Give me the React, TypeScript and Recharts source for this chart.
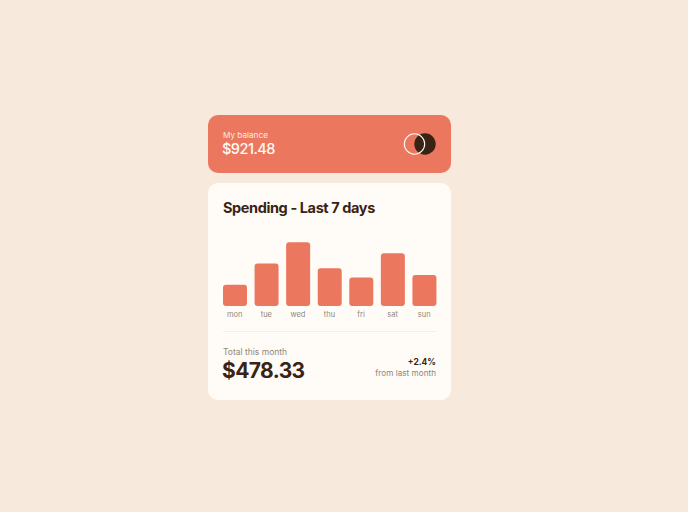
import React from 'react';
import { BarChart, Bar, XAxis, YAxis, Cell } from 'recharts';

const days = ['mon', 'tue', 'wed', 'thu', 'fri', 'sat', 'sun'];
const amounts = [17.45, 34.91, 52.36, 31.07, 23.39, 43.28, 25.48];
const balance = '$921.48';
const total = '$478.33';
const change = '+2.4%';

const data = days.map((day, i) => ({ day, amount: amounts[i] }));

const FONT = '"Inter", "DejaVu Sans", sans-serif';
const DARK = '#382314';
const MUTED = '#92857A';
const RED = '#EC775F';

export default function App() {
  return (
    <div style={{ position: 'fixed', left: 0, top: 0, width: 688, height: 512, background: '#F8E9DD', fontFamily: FONT }}>
      <div style={{ position: 'absolute', left: 208, top: 115, width: 243, height: 58, background: RED, borderRadius: 10 }}>
        <div style={{ position: 'absolute', left: 15, top: 15, fontSize: 8.2, color: '#FDE9E2' }}>My balance</div>
        <div style={{ position: 'absolute', left: 14, top: 25, fontSize: 14.5, fontWeight: 500, color: '#FFFBF6', letterSpacing: -0.5 }}>{balance}</div>
        <svg style={{ position: 'absolute', left: 194, top: 16 }} width={40} height={26}>
          <circle cx={23} cy={13} r={10.7} fill={DARK} />
          <circle cx={12.5} cy={13} r={10.2} fill="none" stroke="#FFFBF6" strokeWidth={1.1} />
        </svg>
      </div>
      <div style={{ position: 'absolute', left: 208, top: 183, width: 243, height: 217, background: '#FFFCF7', borderRadius: 10 }}>
        <div style={{ position: 'absolute', left: 15, top: 16, fontSize: 14.5, fontWeight: 700, color: DARK, letterSpacing: -0.4 }}>Spending - Last 7 days</div>
        <div style={{ position: 'absolute', left: 15, top: 148, width: 213, height: 1, background: '#F5EEE6' }} />
        <div style={{ position: 'absolute', left: 15, top: 164, fontSize: 8.5, color: MUTED }}>Total this month</div>
        <div style={{ position: 'absolute', left: 14, top: 175, fontSize: 21, fontWeight: 700, color: DARK, letterSpacing: -0.6 }}>{total}</div>
        <div style={{ position: 'absolute', right: 15, top: 174, fontSize: 8.5, fontWeight: 700, color: DARK }}>{change}</div>
        <div style={{ position: 'absolute', right: 15, top: 185, fontSize: 8.2, color: MUTED }}>from last month</div>
      </div>
      <div style={{ position: 'absolute', left: 219, top: 233 }}>
        <BarChart width={221} height={93} data={data} margin={{ top: 0, right: 0, bottom: 0, left: 0 }} barSize={24}>
          <YAxis hide domain={[0, 60]} />
          <XAxis
            dataKey="day"
            axisLine={false}
            tickLine={false}
            tickSize={0}
            tickMargin={6}
            height={20}
            interval={0}
            tick={{ fontSize: 7.5, fill: MUTED, fontFamily: FONT }}
          />
          <Bar dataKey="amount" radius={3} isAnimationActive={false}>
            {data.map((d) => (
              <Cell key={d.day} fill={RED} />
            ))}
          </Bar>
        </BarChart>
      </div>
    </div>
  );
}
